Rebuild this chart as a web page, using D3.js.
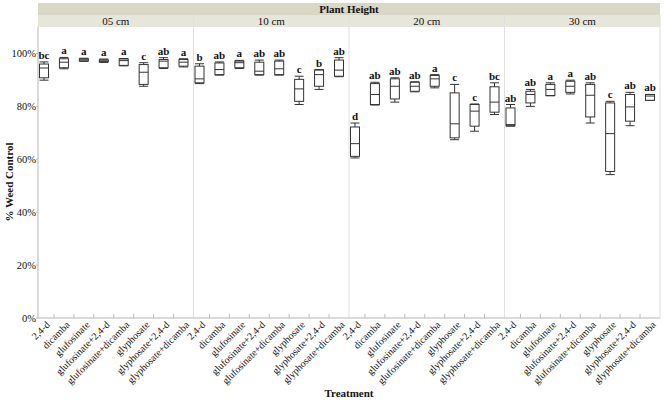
<!DOCTYPE html>
<html>
<head>
<meta charset="utf-8">
<script src="https://cdn.jsdelivr.net/npm/d3@7.9.0/dist/d3.min.js"></script>
<style>
  body { margin: 0; background: #fff; }
  text { font-family: "Liberation Serif", "DejaVu Serif", serif; fill: #111; }
</style>
</head>
<body>
<svg id="chart" width="665" height="403"></svg>
<script>
const treatments = ['2,4-d', 'dicamba', 'glufosinate', 'glufosinate+2,4-d', 'glufosinate+dicamba',
  'glyphosate', 'glyphosate+2,4-d', 'glyphosate+dicamba'];
const heights = ['05 cm', '10 cm', '20 cm', '30 cm'];
const yTicks = [0, 20, 40, 60, 80, 100];

// five-number summaries [min, q1, median, q3, max] per treatment
const stats05 = [
  [89.9, 90.8, 94.5, 96.0, 96.8], [94.2, 94.6, 96.7, 98.0, 98.5], [97.0, 97.2, 97.6, 98.0, 98.2],
  [96.6, 96.9, 97.2, 97.6, 97.9], [95.3, 95.5, 97.3, 97.9, 98.1], [87.6, 88.3, 92.9, 95.8, 96.5],
  [94.3, 94.6, 97.1, 97.7, 98.4], [94.9, 95.2, 96.7, 97.7, 98.0]];
const stats10 = [
  [88.6, 88.9, 90.4, 95.2, 96.1], [91.8, 92.0, 93.9, 96.4, 96.8], [94.3, 94.6, 96.5, 97.1, 97.4],
  [91.8, 92.0, 93.3, 96.7, 97.5], [91.8, 92.0, 94.2, 97.1, 97.5], [80.7, 81.9, 86.6, 90.2, 91.4],
  [86.4, 87.6, 92.0, 93.7, 93.9], [91.2, 91.4, 93.7, 97.5, 98.4]];
const stats20 = [
  [60.5, 61.1, 65.9, 72.2, 73.7], [80.5, 80.7, 84.5, 88.6, 89.1], [81.6, 82.8, 87.6, 90.4, 90.8],
  [85.5, 85.7, 87.6, 89.1, 89.3], [87.0, 87.6, 90.4, 91.7, 92.0], [67.4, 68.1, 73.4, 85.1, 88.3],
  [70.6, 72.5, 78.2, 80.7, 80.9], [76.9, 77.8, 81.6, 87.4, 88.9]];
const stats30 = [
  [72.5, 72.7, 73.1, 79.4, 80.7], [80.0, 81.3, 84.5, 85.7, 86.4], [84.0, 84.1, 86.4, 88.3, 88.9],
  [84.7, 85.3, 87.6, 89.5, 89.9], [73.7, 76.0, 84.2, 88.3, 88.9], [54.2, 55.4, 69.7, 81.3, 81.9],
  [72.7, 74.4, 79.8, 84.5, 85.3], [82.3, 82.3, 83.9, 84.5, 84.5]];

const letters05 = ['bc', 'a', 'a', 'a', 'a', 'c', 'ab', 'a'];
const letters10 = ['b', 'ab', 'a', 'ab', 'ab', 'c', 'b', 'ab'];
const letters20 = ['d', 'ab', 'ab', 'ab', 'a', 'c', 'c', 'bc'];
const letters30 = ['ab', 'ab', 'a', 'a', 'ab', 'c', 'ab', 'ab'];

const allStats = [stats05, stats10, stats20, stats30];
const allLetters = [letters05, letters10, letters20, letters30];

const svg = d3.select('#chart');
const plotL = 38, plotR = 660, plotT = 27, plotB = 318;

const panel = d3.scaleBand().domain(heights).range([plotL, plotR]);
const x = d3.scalePoint().domain(treatments).range([6, panel.bandwidth() - 10]);
const y = d3.scaleLinear().domain([0, 110]).range([plotB, plotT]);
const boxW = 9;

// header bands
svg.append('rect').attr('x', plotL).attr('y', 3).attr('width', plotR - plotL).attr('height', 12)
  .attr('fill', '#d9d7c5');
svg.append('text').attr('x', (plotL + plotR) / 2).attr('y', 12.5).attr('text-anchor', 'middle')
  .attr('font-size', 11).attr('font-weight', 'bold').text('Plant Height');

heights.forEach((h, p) => {
  let x0 = panel(h);
  svg.append('rect').attr('x', x0).attr('y', 15).attr('width', panel.bandwidth()).attr('height', 12)
    .attr('fill', '#e7e6db');
  svg.append('text').attr('x', x0 + panel.bandwidth() / 2).attr('y', 24.5).attr('text-anchor', 'middle')
    .attr('font-size', 11).text(h);
  if (p > 0) {
    svg.append('line').attr('x1', x0).attr('x2', x0).attr('y1', 15).attr('y2', plotB)
      .attr('stroke', '#e0e0e0').attr('stroke-width', 1);
  }
});
svg.append('line').attr('x1', plotR).attr('x2', plotR).attr('y1', 15).attr('y2', plotB)
  .attr('stroke', '#dcdcdc');

// y axis
svg.append('line').attr('x1', plotL).attr('x2', plotL).attr('y1', plotT).attr('y2', plotB + 1)
  .attr('stroke', '#cfcfcf').attr('stroke-width', 1.5);
svg.append('line').attr('x1', plotL).attr('x2', plotR).attr('y1', plotB).attr('y2', plotB)
  .attr('stroke', '#cfcfcf').attr('stroke-width', 1.5);
yTicks.forEach(t => {
  svg.append('line').attr('x1', plotL - 2).attr('x2', plotL).attr('y1', y(t)).attr('y2', y(t))
    .attr('stroke', '#bbb');
  svg.append('text').attr('x', plotL - 2).attr('y', y(t)).attr('dy', '0.35em')
    .attr('text-anchor', 'end').attr('font-size', 10.5).text(t + '%');
});

svg.append('text').attr('transform', 'translate(13,182) rotate(-90)')
  .attr('text-anchor', 'middle').attr('font-size', 11).attr('font-weight', 'bold').text('% Weed Control');
svg.append('text').attr('x', (plotL + plotR) / 2).attr('y', 397).attr('text-anchor', 'middle')
  .attr('font-size', 11).attr('font-weight', 'bold').text('Treatment');

// boxes
heights.forEach((h, p) => {
  let x0 = panel(h);
  let g = svg.append('g').attr('transform', `translate(${x0},0)`);
  let stats = allStats[p], letters = allLetters[p];

  // ticks between categories
  for (let i = 0; i < treatments.length - 1; i++) {
    let tx = (x(treatments[i]) + x(treatments[i + 1])) / 2;
    g.append('line').attr('x1', tx).attr('x2', tx).attr('y1', plotB - 4).attr('y2', plotB)
      .attr('stroke', '#bbb');
  }

  treatments.forEach((t, i) => {
    let [mn, q1, md, q3, mx] = stats[i];
    let cx = x(t);
    g.append('line').attr('x1', cx).attr('x2', cx).attr('y1', y(mx)).attr('y2', y(mn))
      .attr('stroke', '#333');
    [mn, mx].forEach(v => {
      g.append('line').attr('x1', cx - boxW / 2).attr('x2', cx + boxW / 2)
        .attr('y1', y(v)).attr('y2', y(v)).attr('stroke', '#333');
    });
    g.append('rect').attr('x', cx - boxW / 2).attr('width', boxW)
      .attr('y', y(q3)).attr('height', Math.max(y(q1) - y(q3), 1))
      .attr('fill', '#fff').attr('stroke', '#333');
    g.append('line').attr('x1', cx - boxW / 2).attr('x2', cx + boxW / 2)
      .attr('y1', y(md)).attr('y2', y(md)).attr('stroke', '#333');
    g.append('text').attr('x', cx).attr('y', y(mx) - 3).attr('text-anchor', 'middle')
      .attr('font-size', 11).attr('font-weight', 'bold').text(letters[i]);
    g.append('text').attr('transform', `translate(${cx + 4},${plotB + 5}) rotate(-45)`)
      .attr('text-anchor', 'end').attr('font-size', 10).attr('dy', '0.35em').text(t);
  });
});
</script>
</body>
</html>
